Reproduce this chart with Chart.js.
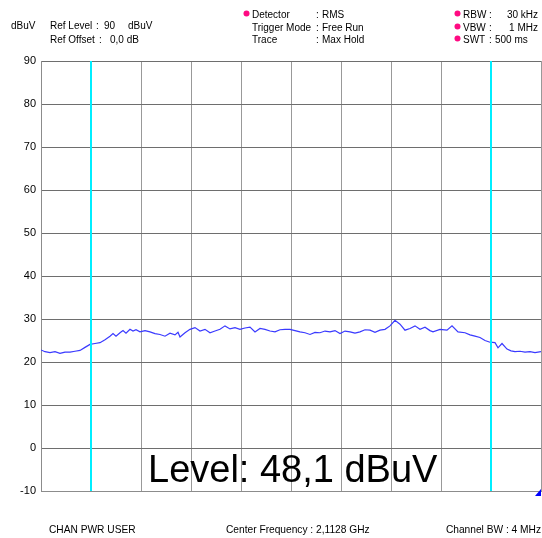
<!DOCTYPE html>
<html>
<head>
<meta charset="utf-8">
<script src="https://cdn.jsdelivr.net/npm/chart.js@4.4.0/dist/chart.umd.min.js"></script>
<style>
  html, body { margin: 0; padding: 0; background: #fff; }
  #wrap { position: relative; width: 542px; height: 538px; }
  canvas { display: block; }
</style>
</head>
<body>
<div id="wrap"><canvas id="c" width="542" height="538"></canvas></div>
<script>
const freqOffsetMHz = [
  -2.50,-2.46,-2.41,-2.36,-2.31,-2.26,-2.21,-2.16,-2.11,-2.06,-2.01,-1.96,-1.91,-1.86,-1.81,-1.78,-1.75,-1.71,-1.68,-1.65,
  -1.61,-1.58,-1.55,-1.51,-1.46,-1.41,-1.36,-1.31,-1.26,-1.21,-1.16,-1.13,-1.11,-1.06,-1.01,-0.96,-0.91,-0.86,-0.81,-0.76,
  -0.71,-0.66,-0.61,-0.56,-0.51,-0.46,-0.41,-0.36,-0.31,-0.26,-0.21,-0.16,-0.11,-0.06,-0.01,0.04,0.09,0.14,0.19,0.24,
  0.29,0.34,0.39,0.44,0.49,0.54,0.59,0.64,0.69,0.74,0.79,0.84,0.89,0.94,0.99,1.04,1.09,1.14,1.19,1.24,
  1.29,1.34,1.39,1.42,1.49,1.56,1.61,1.67,1.74,1.79,1.84,1.89,1.94,1.99,2.04,2.07,2.11,2.16,2.20,2.24,
  2.29,2.34,2.39,2.44,2.50
];
const levelDbuv = [
  22.8,22.4,22.2,22.4,22.0,22.3,22.3,22.5,22.7,23.4,24.1,24.3,24.5,25.2,26.0,26.6,26.0,26.8,27.3,26.7,
  27.6,27.2,27.5,27.0,27.3,27.0,26.6,26.4,26.0,26.7,26.3,26.9,25.8,26.8,27.6,28.0,27.2,27.6,26.8,27.2,
  27.6,28.4,27.7,28.0,27.6,27.9,28.1,27.0,27.8,27.6,27.2,27.0,27.5,27.6,27.6,27.3,27.0,26.8,26.4,26.9,
  26.8,27.2,27.0,27.3,26.6,27.2,27.0,26.7,27.0,27.5,27.4,26.9,27.4,27.6,28.4,29.7,28.8,27.4,27.8,28.4,
  27.6,28.1,27.3,27.0,27.6,27.4,28.4,27.0,26.8,26.3,26.0,25.7,25.0,24.6,24.5,23.3,24.3,23.0,22.6,22.4,
  22.5,22.3,22.4,22.2,22.4
];
const xTickValues = [-2.5,-2,-1.5,-1,-0.5,0,0.5,1,1.5,2,2.5];
const yTickValues = [-10,0,10,20,30,40,50,60,70,80,90];
const channelEdgesMHz = [-2, 2];

const headerTexts = [
  {t:'dBuV', x:11, y:29},
  {t:'Ref Level', x:50, y:29}, {t:':', x:96, y:29}, {t:'90', x:104, y:29}, {t:'dBuV', x:128, y:29},
  {t:'Ref Offset', x:50, y:43}, {t:':', x:99, y:43}, {t:'0,0 dB', x:110, y:43},
  {t:'Detector', x:252, y:18, dot:true}, {t:':', x:316, y:18}, {t:'RMS', x:322, y:18},
  {t:'Trigger Mode', x:252, y:31}, {t:':', x:316, y:31}, {t:'Free Run', x:322, y:31},
  {t:'Trace', x:252, y:43}, {t:':', x:316, y:43}, {t:'Max Hold', x:322, y:43},
  {t:'RBW', x:463, y:18, dot:true}, {t:':', x:489, y:18}, {t:'30 kHz', x:538, y:18, right:true},
  {t:'VBW', x:463, y:31, dot:true}, {t:':', x:489, y:31}, {t:'1 MHz', x:538, y:31, right:true},
  {t:'SWT', x:463, y:43, dot:true}, {t:':', x:489, y:43}, {t:'500 ms', x:495, y:43}
];
const footerTexts = [
  {t:'CHAN PWR USER', x:49, y:533},
  {t:'Center Frequency : 2,1128 GHz', x:226, y:533},
  {t:'Channel BW : 4 MHz', x:541, y:533, right:true}
];
const levelText = 'Level: 48,1 dBuV';

const FONT = '"Liberation Sans", Arial, sans-serif';

const textPlugin = {
  id: 'texts',
  afterDraw(chart) {
    const ctx = chart.ctx, xs = chart.scales.x, a = chart.chartArea;
    ctx.save();
    // channel bandwidth edge lines
    ctx.strokeStyle = 'rgb(0,238,255)';
    ctx.lineWidth = 2;
    channelEdgesMHz.forEach(v => {
      const px = Math.round(xs.getPixelForValue(v));
      ctx.beginPath();
      ctx.moveTo(px, a.top);
      ctx.lineTo(px, a.bottom);
      ctx.stroke();
    });
    ctx.textBaseline = 'alphabetic';
    const draw = (o) => {
      ctx.textAlign = o.right ? 'right' : 'left';
      ctx.fillStyle = '#000';
      ctx.fillText(o.t, o.x, o.y);
      if (o.dot) {
        ctx.fillStyle = '#ff0a82';
        ctx.beginPath();
        ctx.arc(o.x - 5.5, o.y - 4.5, 3, 0, Math.PI * 2);
        ctx.fill();
      }
    };
    ctx.font = '10px ' + FONT;
    headerTexts.forEach(draw);
    ctx.font = '10.2px ' + FONT;
    footerTexts.forEach(draw);
    // big level readout
    ctx.fillStyle = '#000';
    ctx.textAlign = 'left';
    ctx.font = '38px ' + FONT;
    ctx.fillText(levelText, 148, 482);
    // marker triangle bottom-right
    ctx.fillStyle = '#0000ff';
    ctx.beginPath();
    ctx.moveTo(a.right, a.bottom - 2);
    ctx.lineTo(a.right, a.bottom + 5);
    ctx.lineTo(a.right - 6, a.bottom + 5);
    ctx.closePath();
    ctx.fill();
    ctx.restore();
  }
};

const points = freqOffsetMHz.map((f, i) => ({x: f, y: levelDbuv[i]}));

new Chart(document.getElementById('c'), {
  type: 'line',
  data: {
    datasets: [{
      data: points,
      borderColor: '#3a3aff',
      borderWidth: 1.2,
      pointRadius: 0,
      tension: 0,
      fill: false
    }]
  },
  options: {
    responsive: false,
    animation: false,
    devicePixelRatio: 1,
    layout: { padding: { top: 61, bottom: 47, left: 0, right: 1 } },
    plugins: { legend: { display: false }, tooltip: { enabled: false } },
    scales: {
      x: {
        type: 'linear',
        min: -2.5, max: 2.5,
        afterBuildTicks: s => { s.ticks = xTickValues.map(v => ({value: v})); },
        ticks: { display: false },
        grid: { drawTicks: false, color: '#999999', lineWidth: 1 },
        border: { color: '#8c8c8c' },
        afterFit: s => { s.height = 0; }
      },
      y: {
        min: -10, max: 90,
        afterBuildTicks: s => { s.ticks = yTickValues.map(v => ({value: v})); },
        ticks: {
          color: '#000',
          padding: 5,
          font: { family: FONT, size: 11 }
        },
        grid: { drawTicks: false, color: '#6e6e6e', lineWidth: 1 },
        border: { color: '#8c8c8c' },
        afterFit: s => { s.width = 41; }
      }
    }
  },
  plugins: [textPlugin]
});
</script>
</body>
</html>
